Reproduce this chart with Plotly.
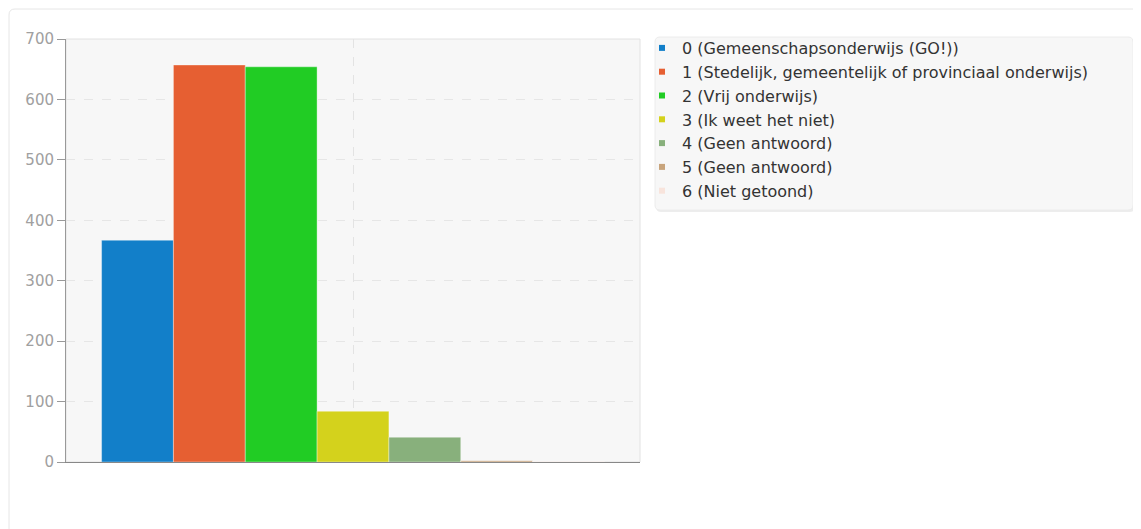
import plotly.graph_objects as go

labels = ["0 (Gemeenschapsonderwijs (GO!))",
          "1 (Stedelijk, gemeentelijk of provinciaal onderwijs)",
          "2 (Vrij onderwijs)",
          "3 (Ik weet het niet)",
          "4 (Geen antwoord)",
          "5 (Geen antwoord)",
          "6 (Niet getoond)"]
values = [367, 657, 654, 84, 41, 2, 1]
colors = ["#127fc9", "#e65f32", "#21cc24", "#d4d21c", "#88b07c", "#c8a47c", "#f8e4dc"]

OFF = 8  # page body margin
W, H = 1141 - OFF, 529 - OFF
# plot area in screen pixels
L, R, T, B = 66, 640, 39, 462
pw, ph = R - L, B - T

def px(x):
    return (x - L) / pw

def py(y):
    return (B - y) / ph

fig = go.Figure()
for lab, v, c in zip(labels, values, colors):
    fig.add_trace(go.Bar(x=[0], y=[v], name=lab,
                         marker=dict(color=c, line=dict(width=0.6, color="rgba(255,255,255,0.6)")),
                         showlegend=False, hoverinfo="name+y"))
for lab, c in zip(labels, colors):
    fig.add_trace(go.Scatter(x=[None], y=[None], mode="markers", name=lab, legendgroup=lab,
                             marker=dict(symbol="square", size=6, color=c)))

def path_px(x0, y0, x1, y1, r):
    rx = r / pw
    ry = r / ph
    a0, a1 = px(x0), px(x1)
    b0, b1 = py(y0), py(y1)
    return (f"M {a0+rx},{b0} L {a1-rx},{b0} Q {a1},{b0} {a1},{b0-ry} L {a1},{b1+ry} Q {a1},{b1} {a1-rx},{b1} "
            f"L {a0+rx},{b1} Q {a0},{b1} {a0},{b1+ry} L {a0},{b0-ry} Q {a0},{b0} {a0+rx},{b0} Z")

shapes = []
shapes.append(dict(type="path", xref="paper", yref="paper", path=path_px(9, 9, 1150, 540, 6),
                   line=dict(color="#e6e6e6", width=1), fillcolor="rgba(0,0,0,0)", layer="below"))
shapes.append(dict(type="path", xref="paper", yref="paper", path=path_px(656, 39, 1135, 212, 5),
                   line=dict(width=0), fillcolor="rgba(0,0,0,0.07)", layer="below"))
shapes.append(dict(type="path", xref="paper", yref="paper", path=path_px(655, 37, 1133, 210, 5),
                   line=dict(color="#ececec", width=1), fillcolor="#f7f7f7", layer="below"))
shapes.append(dict(type="rect", xref="paper", yref="paper", x0=0, y0=0, x1=1, y1=1,
                   line=dict(color="#e2e2e2", width=1), fillcolor="rgba(0,0,0,0)", layer="below"))

fig.update_layout(
    width=W, height=H,
    margin=dict(l=L - OFF, r=W - (R - OFF), t=T - OFF, b=H - (B - OFF), pad=0),
    paper_bgcolor="white", plot_bgcolor="#f7f7f7",
    barmode="group", bargap=0.124, bargroupgap=0,
    font=dict(family="DejaVu Sans", size=13, color="#333"),
    shapes=shapes,
    legend=dict(x=px(642), y=py(31), xanchor="left", yanchor="top",
                bgcolor="rgba(0,0,0,0)", borderwidth=0, tracegroupgap=0,
                font=dict(family="DejaVu Sans", size=16, color="#333"), itemclick=False),
    xaxis=dict(range=[-0.5, 0.5], showticklabels=False, ticks="", showgrid=True,
               tickvals=[0], gridcolor="#e3e3e3", griddash="dash", zeroline=False,
               showline=True, linecolor="#888", linewidth=1),
    yaxis=dict(range=[0, 700], tickvals=[0, 100, 200, 300, 400, 500, 600, 700],
               showgrid=True, gridcolor="#e6e6e6", griddash="dash", zeroline=False,
               showline=True, linecolor="#999", linewidth=1,
               ticks="outside", ticklen=8, tickcolor="#999",
               tickfont=dict(family="DejaVu Sans", size=15, color="#a0a0a0")),
)

fig.write_html("out.html")
